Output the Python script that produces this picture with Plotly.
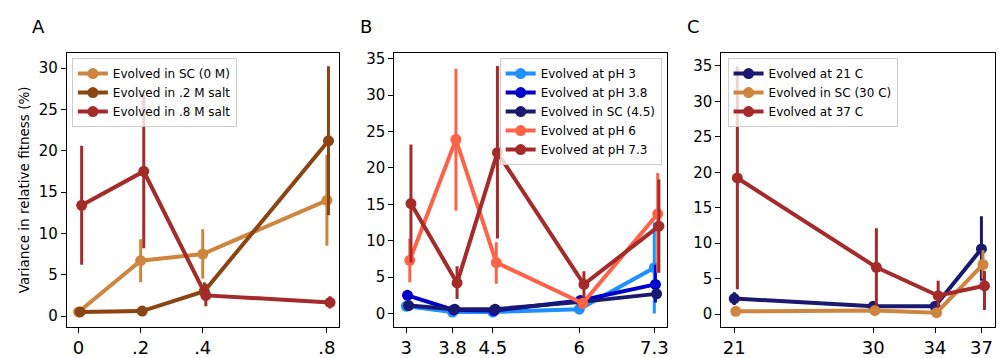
import plotly.graph_objects as go

# ---------- Panel A: salt ----------
a_x = [0.0, 0.2, 0.4, 0.8]
a_ticks = ["0", ".2", ".4", ".8"]
a_names = ["Evolved in SC (0 M)", "Evolved in .2 M salt", "Evolved in .8 M salt"]
a_colors = ["#CD853F", "#8B4513", "#A52A2A"]
a_vals = [
    [0.5, 6.7, 7.5, 14.0],
    [0.5, 0.6, 3.0, 21.2],
    [13.4, 17.5, 2.5, 1.65],
]
a_hi = [
    [0.7, 9.3, 10.5, 19.5],
    [0.6, 0.8, 4.1, 30.2],
    [20.6, 26.8, 3.9, 2.4],
]
a_lo = [
    [0.3, 4.1, 4.5, 8.5],
    [0.4, 0.4, 1.9, 12.2],
    [6.2, 8.2, 1.2, 0.9],
]
a_dodge = 0.005

# ---------- Panel B: pH ----------
b_x = [3.0, 3.8, 4.5, 6.0, 7.3]
b_ticks = ["3", "3.8", "4.5", "6", "7.3"]
b_names = ["Evolved at pH 3", "Evolved at pH 3.8", "Evolved in SC (4.5)",
           "Evolved at pH 6", "Evolved at pH 7.3"]
b_colors = ["#1E90FF", "#0000CD", "#191970", "#FF6347", "#A52A2A"]
b_vals = [
    [1.0, 0.2, 0.2, 0.6, 6.3],
    [2.5, 0.5, 0.4, 1.8, 4.0],
    [1.1, 0.6, 0.6, 1.6, 2.7],
    [7.3, 23.9, 7.0, 1.4, 13.7],
    [15.1, 4.2, 22.1, 4.0, 12.0],
]
b_hi = [
    [1.4, 0.4, 0.4, 0.9, 12.5],
    [3.0, 0.7, 0.6, 2.2, 6.7],
    [1.4, 0.8, 0.8, 1.9, 3.3],
    [10.3, 33.6, 9.8, 1.8, 19.3],
    [23.2, 6.5, 34.0, 5.8, 18.4],
]
b_lo = [
    [0.6, 0.1, 0.1, 0.3, 0.0],
    [2.0, 0.3, 0.2, 1.4, 1.5],
    [0.8, 0.4, 0.4, 1.3, 2.1],
    [4.3, 14.1, 4.1, 1.0, 5.6],
    [7.0, 2.0, 10.3, 2.2, 5.6],
]
b_dodge = 0.02

# ---------- Panel C: temperature ----------
c_x = [21, 30, 34, 37]
c_ticks = ["21", "30", "34", "37"]
c_names = ["Evolved at 21 C", "Evolved in SC (30 C)", "Evolved at 37 C"]
c_colors = ["#191970", "#CD853F", "#A52A2A"]
c_vals = [
    [2.2, 1.1, 1.1, 9.2],
    [0.4, 0.5, 0.2, 7.0],
    [19.2, 6.6, 2.6, 4.0],
]
c_hi = [
    [3.1, 1.4, 1.4, 13.8],
    [0.6, 0.7, 0.4, 9.0],
    [34.9, 12.1, 4.7, 6.1],
]
c_lo = [
    [1.3, 0.8, 0.8, 4.7],
    [0.2, 0.3, 0.1, 5.0],
    [3.5, 1.2, 1.0, 0.6],
]
c_dodge = 0.1

fig = go.Figure()


def add_panel(xs, names, colors, vals, his, los, dodge, xa, ya, leg):
    for i, (nm, col, v, hi, lo) in enumerate(zip(names, colors, vals, his, los)):
        fig.add_trace(go.Scatter(
            x=[x + i * dodge for x in xs], y=v, name=nm,
            mode="lines+markers",
            line=dict(color=col, width=4),
            marker=dict(color=col, size=11),
            error_y=dict(type="data", symmetric=False,
                         array=[h - y for h, y in zip(hi, v)],
                         arrayminus=[y - l for l, y in zip(lo, v)],
                         color=col, thickness=3, width=0),
            xaxis=xa, yaxis=ya, legend=leg,
        ))


add_panel(a_x, a_names, a_colors, a_vals, a_hi, a_lo, a_dodge, "x", "y", "legend")
add_panel(b_x, b_names, b_colors, b_vals, b_hi, b_lo, b_dodge, "x2", "y2", "legend2")
add_panel(c_x, c_names, c_colors, c_vals, c_hi, c_lo, c_dodge, "x3", "y3", "legend3")

# page has an 8px body margin; figure is sized to fill the rest of the window
OFF = 8
W, H = 1005 - OFF, 358 - OFF


def px(p):
    return (p - OFF) / W


def py(p):
    return 1 - (p - OFF) / H


ybot, ytop = py(330), py(51)
doms = [(px(67), px(340)), (px(395), px(668)), (px(722.7), px(997))]

axcommon = dict(showline=True, linecolor="black", linewidth=1, mirror=True,
                ticks="outside", ticklen=5, tickcolor="black", showgrid=False,
                zeroline=False)

legcommon = dict(bordercolor="#cccccc", borderwidth=1, bgcolor="rgba(255,255,255,0.8)",
                 font=dict(size=12), tracegroupgap=0, itemwidth=30, yanchor="top")

fig.update_layout(
    width=W, height=H,
    margin=dict(l=0, r=0, t=0, b=0),
    plot_bgcolor="white", paper_bgcolor="white",
    font=dict(family="DejaVu Sans", color="black"),
    xaxis=dict(domain=doms[0], anchor="y", range=[-0.0376, 0.84],
               tickvals=a_x, ticktext=a_ticks, tickfont=dict(size=18), **axcommon),
    yaxis=dict(domain=[ybot, ytop], anchor="x", range=[-1.27, 31.8],
               tickvals=[0, 5, 10, 15, 20, 25, 30], tickfont=dict(size=15),
               title=dict(text="Variance in relative fitness (%)", font=dict(size=13.5), standoff=6),
               **axcommon),
    xaxis2=dict(domain=doms[1], anchor="y2", range=[2.79, 7.515],
                tickvals=b_x, ticktext=b_ticks, tickfont=dict(size=18), **axcommon),
    yaxis2=dict(domain=[ybot, ytop], anchor="x2", range=[-1.79, 35.76],
                tickvals=[0, 5, 10, 15, 20, 25, 30, 35], tickfont=dict(size=15), **axcommon),
    xaxis3=dict(domain=doms[2], anchor="y3", range=[20.16, 37.88],
                tickvals=c_x, ticktext=c_ticks, tickfont=dict(size=18), **axcommon),
    yaxis3=dict(domain=[ybot, ytop], anchor="x3", range=[-1.75, 36.8],
                tickvals=[0, 5, 10, 15, 20, 25, 30, 35], tickfont=dict(size=15), **axcommon),
    legend=dict(x=px(72), y=py(56), xanchor="left", **legcommon),
    legend2=dict(x=px(663), y=py(56), xanchor="right", **legcommon),
    legend3=dict(x=px(729), y=py(56), xanchor="left", **legcommon),
    annotations=[
        dict(text="A", x=px(39), y=py(24), xref="paper", yref="paper",
             xanchor="center", yanchor="middle", showarrow=False, font=dict(size=18)),
        dict(text="B", x=px(367), y=py(24), xref="paper", yref="paper",
             xanchor="center", yanchor="middle", showarrow=False, font=dict(size=18)),
        dict(text="C", x=px(695), y=py(24), xref="paper", yref="paper",
             xanchor="center", yanchor="middle", showarrow=False, font=dict(size=18)),
    ],
)

fig.write_html("out.html")
